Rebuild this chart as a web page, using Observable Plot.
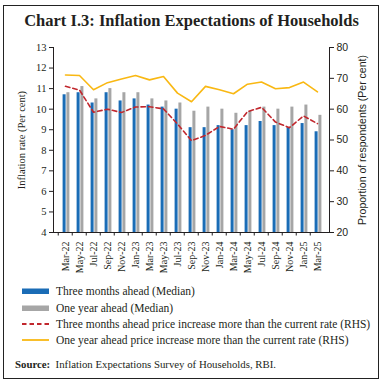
<!DOCTYPE html>
<html><head><meta charset="utf-8">
<script src="https://cdn.jsdelivr.net/npm/d3@7"></script>
<script src="https://cdn.jsdelivr.net/npm/@observablehq/plot@0.6"></script>
<style>
body{margin:0;background:#fff;}
#wrap{position:relative;width:383px;height:384px;overflow:hidden;background:#fff;font-family:"Liberation Serif",serif;color:#231f20;}
#border{position:absolute;left:3px;top:5px;width:374px;height:372px;border:1px solid #222;}
#title{position:absolute;left:0;width:383px;top:11px;text-align:center;font-weight:bold;font-size:16.5px;line-height:20px;}
#chart{position:absolute;left:0;top:0;}
.leg{position:absolute;left:22px;height:14px;font-size:11.5px;line-height:14px;white-space:nowrap;}
.leg svg{position:absolute;left:0;top:0;}
.leg span{position:absolute;left:34px;top:0;}
#source{position:absolute;left:15px;top:357px;font-size:10.8px;line-height:14px;white-space:nowrap;}
</style></head>
<body>
<div id="wrap">
  <div id="border"></div>
  <div id="title">Chart I.3: Inflation Expectations of Households</div>
  <div id="chart"></div>
  <div class="leg" style="top:284px"><svg width="28" height="14"><rect x="0" y="4.5" width="27" height="5.5" fill="#1a6cb6"/></svg><span>Three months ahead (Median)</span></div>
  <div class="leg" style="top:300.5px"><svg width="28" height="14"><rect x="0" y="4.5" width="27" height="5.5" fill="#a6a6a6"/></svg><span>One year ahead (Median)</span></div>
  <div class="leg" style="top:317px"><svg width="28" height="14"><line x1="0" x2="27" y1="7" y2="7" stroke="#c1272d" stroke-width="1.8" stroke-dasharray="4.5,3"/></svg><span>Three months ahead price increase more than the current rate (RHS)</span></div>
  <div class="leg" style="top:333px"><svg width="28" height="14"><line x1="0" x2="27" y1="7" y2="7" stroke="#f9b813" stroke-width="1.8"/></svg><span>One year ahead price increase more than the current rate (RHS)</span></div>
  <div id="source"><b>Source:</b>&nbsp; Inflation Expectations Survey of Households, RBI.</div>
</div>
<script>
const months = ["Mar-22","May-22","Jul-22","Sep-22","Nov-22","Jan-23","Mar-23","May-23","Jul-23","Sep-23","Nov-23","Jan-24","Mar-24","May-24","Jul-24","Sep-24","Nov-24","Jan-25","Mar-25"];
const threeMonthMedian = [10.7,10.8,10.3,10.8,10.4,10.5,10.2,10.1,10.0,9.1,9.1,9.2,9.0,9.2,9.4,9.2,9.1,9.3,8.9];
const oneYearMedian = [10.8,11.1,10.5,11.0,10.8,10.8,10.5,10.4,10.3,9.9,10.1,10.0,9.8,9.9,10.1,10.0,10.1,10.2,9.7];
const threeMonthShare = [67.4,66.2,59.0,60.0,58.9,60.7,60.8,60.1,55.2,49.8,51.5,54.4,53.5,59.2,60.6,55.8,54.0,57.8,55.3];
const oneYearShare = [71.1,70.9,66.3,68.6,69.8,70.9,69.5,70.6,65.2,62.4,67.4,66.3,65.0,68.1,68.8,66.6,67.0,68.8,65.6];
const leftTicks = [4,5,6,7,8,9,10,11,12,13];
const rightTicks = [20,30,40,50,60,70,80];

// map RHS (20..80) onto LHS (4..13)
const rhs = r => 4 + (r - 20) * 9 / 60;
const idx = months.map((m, i) => i);
const W = 383, mL = 53, mR = 54;
const bw = (W - mL - mR) / months.length;

const chart = Plot.plot({
  width: W, height: 280,
  marginLeft: mL, marginRight: mR, marginTop: 47, marginBottom: 48,
  style: {fontFamily: "Liberation Serif", fontSize: "10px", color: "#231f20", background: "transparent"},
  x: {type: "band", domain: months, padding: 0},
  y: {domain: [4, 13]},
  marks: [
    Plot.barY(idx, {x: i => months[i], y1: 4, y2: i => threeMonthMedian[i], fill: "#1a6cb6", insetLeft: 4.6, insetRight: 6.4}),
    Plot.barY(idx, {x: i => months[i], y1: 4, y2: i => oneYearMedian[i], fill: "#a6a6a6", insetLeft: 8.4, insetRight: 2.6}),
    Plot.line(idx, {x: i => months[i], y: i => rhs(oneYearShare[i]), stroke: "#f9b813", strokeWidth: 1.6}),
    Plot.line(idx, {x: i => months[i], y: i => rhs(threeMonthShare[i]), stroke: "#c1272d", strokeWidth: 1.6, strokeDasharray: "4.5,3"}),
    Plot.frame({anchor: "left", stroke: "#231f20"}),
    Plot.frame({anchor: "right", stroke: "#231f20"}),
    Plot.frame({anchor: "bottom", stroke: "#231f20"}),
    Plot.ruleX(months, {x: d => d, dx: -bw / 2, y1: 4, y2: 4 - 3.5 * 9 / 185, stroke: "#231f20"}),
    Plot.axisY({anchor: "left", ticks: leftTicks, tickSize: 4, tickPadding: 3, fontSize: 10.5,
      label: "Inflation rate (Per cent)", labelAnchor: "center", labelArrow: "none", labelOffset: 36}),
    Plot.axisY({anchor: "right", ticks: rightTicks.map(rhs), tickFormat: v => String(Math.round((v - 4) * 60 / 9 + 20)),
      tickSize: 4, tickPadding: 3, fontSize: 10.5, fontFamily: "Liberation Sans",
      label: "Proportion of respondents (Per cent)", labelAnchor: "center", labelArrow: "none", labelOffset: 36}),
    Plot.axisX({tickRotate: -90, tickSize: 0, tickPadding: 9, fontSize: 10, label: null})
  ]
});
document.getElementById("chart").appendChild(chart);
</script>
</body></html>
